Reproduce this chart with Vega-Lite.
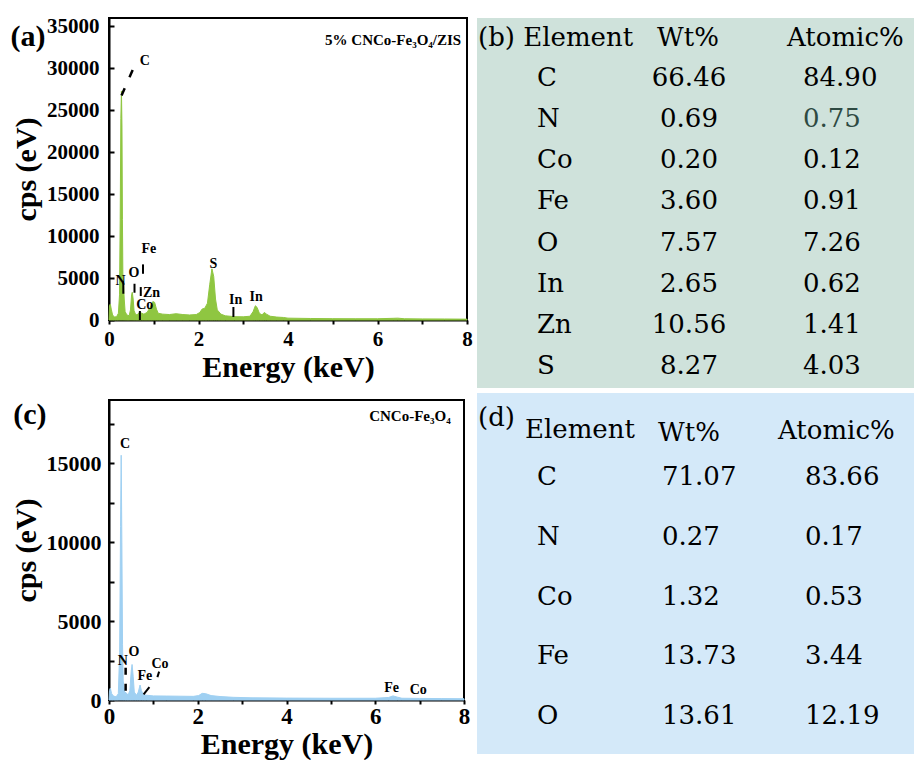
{
  "$schema": "https://vega.github.io/schema/vega-lite/v6.json",
  "background": "white",
  "padding": {"left": 9, "top": 14, "right": 0, "bottom": 0},
  "spacing": 3,
  "datasets": {
    "specA": [
      {"energy": 0, "cps": 0}, {"energy": 0.01, "cps": 1700}, {"energy": 0.03, "cps": 1900}, {"energy": 0.05, "cps": 1300},
      {"energy": 0.08, "cps": 600}, {"energy": 0.12, "cps": 350}, {"energy": 0.17, "cps": 400}, {"energy": 0.21, "cps": 800},
      {"energy": 0.235, "cps": 3000}, {"energy": 0.25, "cps": 12000}, {"energy": 0.265, "cps": 24000}, {"energy": 0.278, "cps": 27300},
      {"energy": 0.29, "cps": 23000}, {"energy": 0.3, "cps": 12000}, {"energy": 0.31, "cps": 5500}, {"energy": 0.325, "cps": 4300},
      {"energy": 0.34, "cps": 2500}, {"energy": 0.36, "cps": 1000}, {"energy": 0.4, "cps": 600}, {"energy": 0.45, "cps": 500},
      {"energy": 0.48, "cps": 1200}, {"energy": 0.505, "cps": 3000}, {"energy": 0.52, "cps": 3300}, {"energy": 0.54, "cps": 2500},
      {"energy": 0.56, "cps": 1100}, {"energy": 0.6, "cps": 600}, {"energy": 0.65, "cps": 700}, {"energy": 0.69, "cps": 1000},
      {"energy": 0.73, "cps": 800}, {"energy": 0.78, "cps": 700}, {"energy": 0.85, "cps": 900}, {"energy": 0.92, "cps": 1500},
      {"energy": 0.98, "cps": 2200}, {"energy": 1.02, "cps": 2100}, {"energy": 1.06, "cps": 1300}, {"energy": 1.1, "cps": 800},
      {"energy": 1.2, "cps": 700}, {"energy": 1.35, "cps": 650}, {"energy": 1.5, "cps": 750}, {"energy": 1.65, "cps": 650},
      {"energy": 1.8, "cps": 600}, {"energy": 1.95, "cps": 650}, {"energy": 2.03, "cps": 900}, {"energy": 2.08, "cps": 1300},
      {"energy": 2.14, "cps": 1400}, {"energy": 2.2, "cps": 2000}, {"energy": 2.25, "cps": 4200}, {"energy": 2.3, "cps": 6100},
      {"energy": 2.34, "cps": 5200}, {"energy": 2.38, "cps": 2500}, {"energy": 2.42, "cps": 1200}, {"energy": 2.5, "cps": 700},
      {"energy": 2.6, "cps": 500}, {"energy": 2.8, "cps": 400}, {"energy": 3.0, "cps": 380}, {"energy": 3.15, "cps": 450},
      {"energy": 3.22, "cps": 1000}, {"energy": 3.27, "cps": 1700}, {"energy": 3.31, "cps": 1500}, {"energy": 3.36, "cps": 800},
      {"energy": 3.42, "cps": 600}, {"energy": 3.47, "cps": 900}, {"energy": 3.52, "cps": 700}, {"energy": 3.6, "cps": 450},
      {"energy": 3.75, "cps": 350}, {"energy": 3.9, "cps": 300}, {"energy": 4.0, "cps": 220}, {"energy": 4.5, "cps": 180},
      {"energy": 5.0, "cps": 160}, {"energy": 5.5, "cps": 150}, {"energy": 6.0, "cps": 150}, {"energy": 6.35, "cps": 200},
      {"energy": 6.45, "cps": 220}, {"energy": 6.6, "cps": 150}, {"energy": 7.0, "cps": 130}, {"energy": 7.5, "cps": 120},
      {"energy": 8.0, "cps": 100}
    ],
    "specC": [
      {"energy": 0, "cps": 0}, {"energy": 0.01, "cps": 600}, {"energy": 0.03, "cps": 750}, {"energy": 0.06, "cps": 400},
      {"energy": 0.1, "cps": 250}, {"energy": 0.16, "cps": 200}, {"energy": 0.21, "cps": 400}, {"energy": 0.24, "cps": 3000},
      {"energy": 0.26, "cps": 11000}, {"energy": 0.275, "cps": 15500}, {"energy": 0.29, "cps": 10000}, {"energy": 0.305, "cps": 3500},
      {"energy": 0.32, "cps": 1200}, {"energy": 0.35, "cps": 500}, {"energy": 0.39, "cps": 450}, {"energy": 0.43, "cps": 300},
      {"energy": 0.47, "cps": 600}, {"energy": 0.5, "cps": 1800}, {"energy": 0.52, "cps": 2250}, {"energy": 0.545, "cps": 1500},
      {"energy": 0.57, "cps": 500}, {"energy": 0.62, "cps": 300}, {"energy": 0.66, "cps": 500}, {"energy": 0.7, "cps": 950},
      {"energy": 0.73, "cps": 600}, {"energy": 0.77, "cps": 350}, {"energy": 0.85, "cps": 300}, {"energy": 1.0, "cps": 260},
      {"energy": 1.3, "cps": 250}, {"energy": 1.6, "cps": 240}, {"energy": 1.9, "cps": 230}, {"energy": 2.02, "cps": 280},
      {"energy": 2.1, "cps": 420}, {"energy": 2.18, "cps": 400}, {"energy": 2.3, "cps": 280}, {"energy": 2.5, "cps": 220},
      {"energy": 2.8, "cps": 170}, {"energy": 3.2, "cps": 140}, {"energy": 4.0, "cps": 120}, {"energy": 5.0, "cps": 110},
      {"energy": 6.0, "cps": 110}, {"energy": 6.3, "cps": 160}, {"energy": 6.4, "cps": 260}, {"energy": 6.5, "cps": 180},
      {"energy": 6.6, "cps": 110}, {"energy": 7.0, "cps": 100}, {"energy": 7.5, "cps": 90}, {"energy": 8.0, "cps": 80}
    ],
    "labA": [
      {"label": "C", "energy": 0.80, "cps": 30830}, {"label": "Fe", "energy": 0.89, "cps": 8410},
      {"label": "O", "energy": 0.56, "cps": 5630}, {"label": "N", "energy": 0.26, "cps": 4640},
      {"label": "Zn", "energy": 0.95, "cps": 3180}, {"label": "Co", "energy": 0.80, "cps": 1790},
      {"label": "S", "energy": 2.33, "cps": 6630}, {"label": "In", "energy": 2.83, "cps": 2380},
      {"label": "In", "energy": 3.29, "cps": 2740}
    ],
    "labC": [
      {"label": "C", "energy": 0.36, "cps": 16200}, {"label": "N", "energy": 0.31, "cps": 2470},
      {"label": "O", "energy": 0.56, "cps": 3040}, {"label": "Fe", "energy": 0.81, "cps": 1520},
      {"label": "Co", "energy": 1.15, "cps": 2300}, {"label": "Fe", "energy": 6.37, "cps": 780},
      {"label": "Co", "energy": 6.97, "cps": 610}
    ],
    "markA": [
      {"energy": 0.32, "cps": 4440, "energy2": 0.32, "cps2": 3130},
      {"energy": 0.57, "cps": 4320, "energy2": 0.57, "cps2": 3250},
      {"energy": 0.76, "cps": 6630, "energy2": 0.76, "cps2": 5510},
      {"energy": 0.71, "cps": 3930, "energy2": 0.71, "cps2": 2860},
      {"energy": 0.69, "cps": 1070, "energy2": 0.69, "cps2": 0},
      {"energy": 2.78, "cps": 1550, "energy2": 2.78, "cps2": 360}
    ],
    "markAd": [
      {"energy": 0.28, "cps": 26750, "energy2": 0.58, "cps2": 30440}
    ],
    "markC": [
      {"energy": 0.78, "cps": 360, "energy2": 0.91, "cps2": 820},
      {"energy": 1.09, "cps": 1450, "energy2": 1.13, "cps2": 1800}
    ],
    "markCd": [
      {"energy": 0.375, "cps": 2050, "energy2": 0.375, "cps2": 250}
    ],
    "panelA": [{"label": "(a)", "energy": -2.2, "cps": 32700}],
    "panelC": [{"label": "(c)", "energy": -2.16, "cps": 17480}],
    "sampleA": [{"label": "5% CNCo-Fe₃O₄/ZIS", "energy": 7.87, "cps": 33400}],
    "sampleC": [{"label": "CNCo-Fe₃O₄", "energy": 7.7, "cps": 18000}],
    "tabB": [
      {"element": "C", "wt": "66.46", "atomic": "84.90"},
      {"element": "N", "wt": "0.69", "atomic": "0.75"},
      {"element": "Co", "wt": "0.20", "atomic": "0.12"},
      {"element": "Fe", "wt": "3.60", "atomic": "0.91"},
      {"element": "O", "wt": "7.57", "atomic": "7.26"},
      {"element": "In", "wt": "2.65", "atomic": "0.62"},
      {"element": "Zn", "wt": "10.56", "atomic": "1.41"},
      {"element": "S", "wt": "8.27", "atomic": "4.03"}
    ],
    "tabD": [
      {"element": "C", "wt": "71.07", "atomic": "83.66"},
      {"element": "N", "wt": "0.27", "atomic": "0.17"},
      {"element": "Co", "wt": "1.32", "atomic": "0.53"},
      {"element": "Fe", "wt": "13.73", "atomic": "3.44"},
      {"element": "O", "wt": "13.61", "atomic": "12.19"}
    ]
  },
  "hconcat": [
    {
      "spacing": 15,
      "vconcat": [
        {
          "width": 358, "height": 302,
          "view": {"stroke": "#000", "strokeWidth": 2},
          "layer": [
            {
              "data": {"name": "specA"},
              "mark": {"type": "area", "color": "#8fc641", "stroke": "#8fc641", "strokeWidth": 1},
              "encoding": {
                "x": {"field": "energy", "type": "quantitative", "scale": {"domain": [0, 8], "nice": false},
                      "axis": {"title": "Energy (keV)", "values": [0,1,2,3,4,5,6,7,8], "labelExpr": "datum.value % 2 == 0 ? datum.label : ''", "titlePadding": 3}},
                "y": {"field": "cps", "type": "quantitative", "scale": {"domain": [0, 36000], "nice": false},
                      "axis": {"title": "cps (eV)", "format": "d", "values": [0,2500,5000,7500,10000,12500,15000,17500,20000,22500,25000,27500,30000,32500,35000], "labelExpr": "datum.value % 5000 == 0 ? datum.label : ''"}}
              }
            },
            {
              "data": {"name": "markA"},
              "mark": {"type": "rule", "color": "#000", "strokeWidth": 2},
              "encoding": {"x": {"field": "energy", "type": "quantitative"}, "y": {"field": "cps", "type": "quantitative"}, "x2": {"field": "energy2"}, "y2": {"field": "cps2"}}
            },
            {
              "data": {"name": "markAd"},
              "mark": {"type": "rule", "color": "#000", "strokeWidth": 2.5, "strokeDash": [8, 12]},
              "encoding": {"x": {"field": "energy", "type": "quantitative"}, "y": {"field": "cps", "type": "quantitative"}, "x2": {"field": "energy2"}, "y2": {"field": "cps2"}}
            },
            {
              "data": {"name": "labA"},
              "mark": {"type": "text", "font": "Liberation Serif", "fontWeight": "bold", "fontSize": 14, "color": "#000", "baseline": "middle"},
              "encoding": {"x": {"field": "energy", "type": "quantitative"}, "y": {"field": "cps", "type": "quantitative"}, "text": {"field": "label"}}
            },
            {
              "data": {"name": "sampleA"},
              "mark": {"type": "text", "font": "Liberation Serif", "fontWeight": "bold", "fontSize": 15, "color": "#000", "align": "right", "baseline": "middle"},
              "encoding": {"x": {"field": "energy", "type": "quantitative"}, "y": {"field": "cps", "type": "quantitative"}, "text": {"field": "label"}}
            },
            {
              "data": {"name": "panelA"},
              "mark": {"type": "text", "font": "Liberation Serif", "fontWeight": "bold", "fontSize": 30, "color": "#000", "align": "left", "baseline": "alphabetic"},
              "encoding": {"x": {"field": "energy", "type": "quantitative"}, "y": {"field": "cps", "type": "quantitative"}, "text": {"field": "label"}}
            }
          ]
        },
        {
          "width": 355, "height": 300,
          "view": {"stroke": "#000", "strokeWidth": 2},
          "layer": [
            {
              "data": {"name": "specC"},
              "mark": {"type": "area", "color": "#9fd0f2", "stroke": "#9fd0f2", "strokeWidth": 1},
              "encoding": {
                "x": {"field": "energy", "type": "quantitative", "scale": {"domain": [0, 8], "nice": false},
                      "axis": {"title": "Energy (keV)", "values": [0,1,2,3,4,5,6,7,8], "labelExpr": "datum.value % 2 == 0 ? datum.label : ''", "labelFontSize": 23, "labelPadding": 1, "titlePadding": 1}},
                "y": {"field": "cps", "type": "quantitative", "scale": {"domain": [0, 19000], "nice": false},
                      "axis": {"title": "cps (eV)", "format": "d", "values": [0,2500,5000,7500,10000,12500,15000,17500], "labelExpr": "datum.value % 5000 == 0 ? datum.label : ''", "labelFontSize": 22, "labelPadding": 13}}
              }
            },
            {
              "data": {"name": "markC"},
              "mark": {"type": "rule", "color": "#000", "strokeWidth": 2},
              "encoding": {"x": {"field": "energy", "type": "quantitative"}, "y": {"field": "cps", "type": "quantitative"}, "x2": {"field": "energy2"}, "y2": {"field": "cps2"}}
            },
            {
              "data": {"name": "markCd"},
              "mark": {"type": "rule", "color": "#000", "strokeWidth": 2.5, "strokeDash": [7, 9]},
              "encoding": {"x": {"field": "energy", "type": "quantitative"}, "y": {"field": "cps", "type": "quantitative"}, "x2": {"field": "energy2"}, "y2": {"field": "cps2"}}
            },
            {
              "data": {"name": "labC"},
              "mark": {"type": "text", "font": "Liberation Serif", "fontWeight": "bold", "fontSize": 14, "color": "#000", "baseline": "middle"},
              "encoding": {"x": {"field": "energy", "type": "quantitative"}, "y": {"field": "cps", "type": "quantitative"}, "text": {"field": "label"}}
            },
            {
              "data": {"name": "sampleC"},
              "mark": {"type": "text", "font": "Liberation Serif", "fontWeight": "bold", "fontSize": 15, "color": "#000", "align": "right", "baseline": "middle"},
              "encoding": {"x": {"field": "energy", "type": "quantitative"}, "y": {"field": "cps", "type": "quantitative"}, "text": {"field": "label"}}
            },
            {
              "data": {"name": "panelC"},
              "mark": {"type": "text", "font": "Liberation Serif", "fontWeight": "bold", "fontSize": 30, "color": "#000", "align": "left", "baseline": "alphabetic"},
              "encoding": {"x": {"field": "energy", "type": "quantitative"}, "y": {"field": "cps", "type": "quantitative"}, "text": {"field": "label"}}
            }
          ]
        }
      ]
    },
    {
      "spacing": 5,
      "vconcat": [
        {
          "width": 437, "height": 370,
          "view": {"fill": "#cfe2db", "stroke": null},
          "data": {"name": "tabB"},
          "encoding": {
            "y": {"field": "element", "type": "nominal", "scale": {"type": "point", "padding": 0, "domain": ["C","N","Co","Fe","O","In","Zn","S"], "range": [68, 356]}, "axis": null}
          },
          "layer": [
            {"mark": {"type": "text", "align": "left", "baseline": "alphabetic", "font": "DejaVu Serif", "fontSize": 26, "color": "#000"},
             "encoding": {"x": {"datum": "Element", "type": "nominal", "scale": {"type": "point", "padding": 0, "domain": ["Element","Wt%","Atomic%"], "range": [60, 326]}, "axis": null}, "text": {"field": "element"}}},
            {"mark": {"type": "text", "align": "center", "dx": 19, "baseline": "alphabetic", "font": "DejaVu Serif", "fontSize": 26, "color": "#000"},
             "encoding": {"x": {"datum": "Wt%", "type": "nominal"}, "text": {"field": "wt"}}},
            {"mark": {"type": "text", "align": "left", "baseline": "alphabetic", "font": "DejaVu Serif", "fontSize": 26},
             "encoding": {"x": {"datum": "Atomic%", "type": "nominal"}, "text": {"field": "atomic"},
                          "color": {"condition": {"test": "datum.atomic === '0.75'", "value": "#2e4a42"}, "value": "#000"}}},
            {"data": {"values": [{"label": "(b) Element"}]},
             "mark": {"type": "text", "align": "left", "dx": -59, "dy": -40, "baseline": "alphabetic", "font": "DejaVu Serif", "fontSize": 26, "color": "#000"},
             "encoding": {"x": {"datum": "Element", "type": "nominal"}, "y": {"datum": "C", "type": "nominal"}, "text": {"field": "label"}}},
            {"data": {"values": [{"label": "Wt%"}]},
             "mark": {"type": "text", "align": "left", "dx": -13, "dy": -40, "baseline": "alphabetic", "font": "DejaVu Serif", "fontSize": 26, "color": "#000"},
             "encoding": {"x": {"datum": "Wt%", "type": "nominal"}, "y": {"datum": "C", "type": "nominal"}, "text": {"field": "label"}}},
            {"data": {"values": [{"label": "Atomic%"}]},
             "mark": {"type": "text", "align": "left", "dx": -16, "dy": -40, "baseline": "alphabetic", "font": "DejaVu Serif", "fontSize": 26, "color": "#000"},
             "encoding": {"x": {"datum": "Atomic%", "type": "nominal"}, "y": {"datum": "C", "type": "nominal"}, "text": {"field": "label"}}}
          ]
        },
        {
          "width": 437, "height": 361,
          "view": {"fill": "#d4e9f9", "stroke": null},
          "data": {"name": "tabD"},
          "encoding": {
            "y": {"field": "element", "type": "nominal", "scale": {"type": "point", "padding": 0, "domain": ["C","N","Co","Fe","O"], "range": [92, 331]}, "axis": null}
          },
          "layer": [
            {"mark": {"type": "text", "align": "left", "baseline": "alphabetic", "font": "DejaVu Serif", "fontSize": 26, "color": "#000"},
             "encoding": {"x": {"datum": "Element", "type": "nominal", "scale": {"type": "point", "padding": 0, "domain": ["Element","Wt%","Atomic%"], "range": [60, 328]}, "axis": null}, "text": {"field": "element"}}},
            {"mark": {"type": "text", "align": "left", "dx": -9, "baseline": "alphabetic", "font": "DejaVu Serif", "fontSize": 26, "color": "#000"},
             "encoding": {"x": {"datum": "Wt%", "type": "nominal"}, "text": {"field": "wt"}}},
            {"mark": {"type": "text", "align": "left", "baseline": "alphabetic", "font": "DejaVu Serif", "fontSize": 26, "color": "#000"},
             "encoding": {"x": {"datum": "Atomic%", "type": "nominal"}, "text": {"field": "atomic"}}},
            {"data": {"values": [{"label": "(d)"}]},
             "mark": {"type": "text", "align": "left", "dx": -59, "dy": -59, "baseline": "alphabetic", "font": "DejaVu Serif", "fontSize": 26, "color": "#000"},
             "encoding": {"x": {"datum": "Element", "type": "nominal"}, "y": {"datum": "C", "type": "nominal"}, "text": {"field": "label"}}},
            {"data": {"values": [{"label": "Element"}]},
             "mark": {"type": "text", "align": "left", "dx": -12, "dy": -47, "baseline": "alphabetic", "font": "DejaVu Serif", "fontSize": 26, "color": "#000"},
             "encoding": {"x": {"datum": "Element", "type": "nominal"}, "y": {"datum": "C", "type": "nominal"}, "text": {"field": "label"}}},
            {"data": {"values": [{"label": "Wt%"}]},
             "mark": {"type": "text", "align": "left", "dx": -13, "dy": -44, "baseline": "alphabetic", "font": "DejaVu Serif", "fontSize": 26, "color": "#000"},
             "encoding": {"x": {"datum": "Wt%", "type": "nominal"}, "y": {"datum": "C", "type": "nominal"}, "text": {"field": "label"}}},
            {"data": {"values": [{"label": "Atomic%"}]},
             "mark": {"type": "text", "align": "left", "dx": -27, "dy": -46, "baseline": "alphabetic", "font": "DejaVu Serif", "fontSize": 26, "color": "#000"},
             "encoding": {"x": {"datum": "Atomic%", "type": "nominal"}, "y": {"datum": "C", "type": "nominal"}, "text": {"field": "label"}}}
          ]
        }
      ]
    }
  ],
  "config": {
    "font": "Liberation Serif",
    "view": {"stroke": null},
    "axis": {"grid": false, "domainColor": "#000", "domainWidth": 2, "tickColor": "#000", "tickWidth": 2,
             "labelFont": "Liberation Serif", "labelFontSize": 21, "labelFontWeight": "bold", "labelColor": "#000",
             "labelFlush": false, "labelOverlap": false,
             "titleFont": "Liberation Serif", "titleFontSize": 30, "titleFontWeight": "bold", "titleColor": "#000"},
    "axisX": {"tickSize": 4, "labelPadding": 4, "titlePadding": 0},
    "axisY": {"tickSize": -5, "labelPadding": 15, "titlePadding": 5}
  }
}
